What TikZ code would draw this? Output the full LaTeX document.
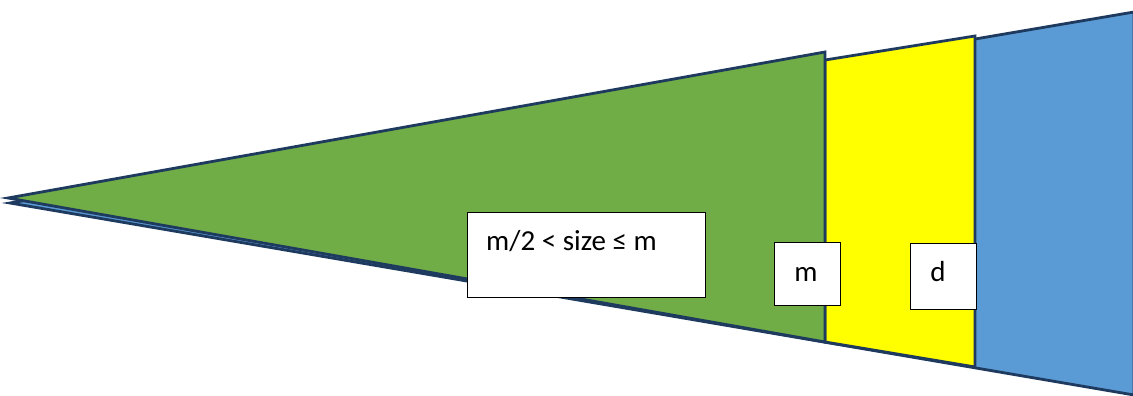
\documentclass[tikz,border=0pt]{standalone}
\usepackage{fontspec}
\setmainfont{Carlito}
\definecolor{edgeblue}{HTML}{1F3A5F}
\definecolor{fillblue}{HTML}{5B9BD5}
\definecolor{fillgreen}{HTML}{70AD47}
\definecolor{fillyellow}{HTML}{FFFF00}
\tikzset{
  wedge/.style={draw=edgeblue, line width=2.8pt, line join=miter},
  label box/.style={draw=black, line width=1pt, fill=white},
  lbl/.style={font=\fontsize{29}{33}\selectfont, inner sep=0pt}
}
\begin{document}
\begin{tikzpicture}[x=1pt,y=-1pt]
\useasboundingbox (0,0) rectangle (1133,396);
% blue region
\filldraw[wedge, fill=fillblue] (10,203) -- (1134,12) -- (1134,395) -- cycle;
% yellow region
\filldraw[wedge, fill=fillyellow] (825,60) -- (975,36) -- (975,367) -- (825,342) -- cycle;
% green region
\filldraw[wedge, fill=fillgreen] (8,198) -- (825,52) -- (825,342) -- cycle;
% label boxes
\draw[label box] (467,212) rectangle (705,297);
\node[lbl, anchor=base west] (t1) at (486,250) {m/2 < size ≤ m};
\draw[label box] (774,242) rectangle (840,305);
\node[lbl, anchor=base] (t2) at (806,281) {m};
\draw[label box] (910,243) rectangle (976,309);
\node[lbl, anchor=base] (t3) at (938,281) {d};
\end{tikzpicture}
\end{document}
